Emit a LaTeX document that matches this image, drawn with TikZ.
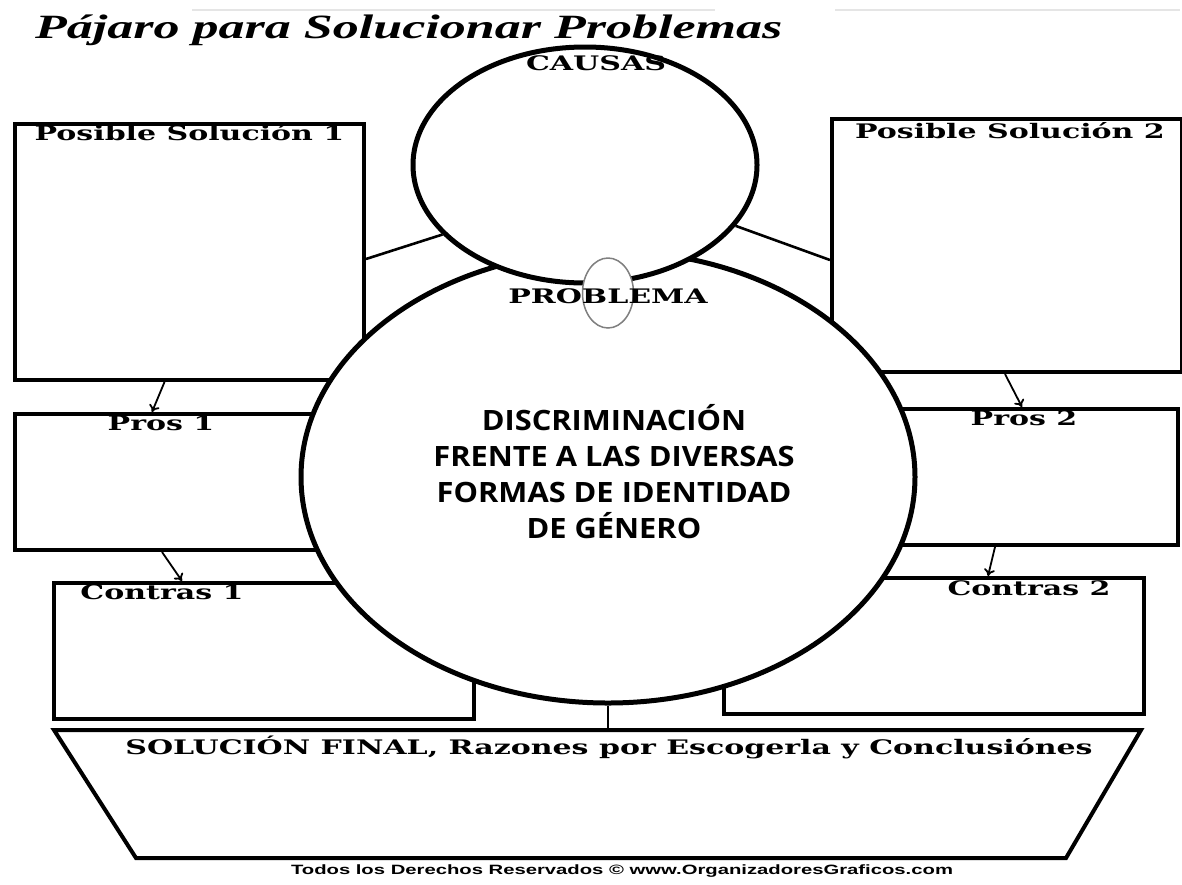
\documentclass[tikz,border=0pt]{standalone}
\usepackage{fontspec}
\usetikzlibrary{positioning,shapes.geometric,arrows.meta}
\newfontfamily\labfont{DejaVu Serif}[FakeStretch=1.5]
\newfontfamily\titfont{Liberation Serif}[FakeStretch=1.53]
\newfontfamily\temafont{Open Sans}[FakeStretch=1.1]
\newfontfamily\copyfont{Liberation Sans}[FakeStretch=1.5]

\begin{document}
\begin{tikzpicture}[x=1pt,y=-1pt,
box/.style={draw, line width=4pt, fill=white, anchor=north west, inner sep=0pt},
bubble/.style={draw, ellipse, line width=5pt, fill=white, inner sep=0pt},
lab/.style={font=\labfont\bfseries\fontsize{20}{24}\selectfont, inner sep=0pt, anchor=north},
link/.style={line width=2.6pt},
arr/.style={line width=1.8pt, -{To[length=7pt,width=11pt]}}]
    \useasboundingbox (0,0) rectangle (1182,884);
    % faint rules
    \draw[gray!20, line width=1.5pt] (192,10) -- (715,10);
    \draw[gray!20, line width=1.5pt] (835,10) -- (1180,10);

    % Nodes
    \node (Title) [anchor=west, inner sep=0pt, font=\titfont\bfseries\itshape\fontsize{34}{40}\selectfont] at (35,30) {Pájaro para Solucionar Problemas};
    \node (Sol1) [box, minimum width=349pt, minimum height=256pt] at (13,122) {};
    \node (Sol2) [box, minimum width=350pt, minimum height=253pt] at (830,117) {};
    \node (Pros1) [box, minimum width=350pt, minimum height=136pt] at (13,412) {};
    \node (Pros2) [box, anchor=north east, minimum width=350pt, minimum height=136pt] at (1180,407) {};
    \node (Con1) [box, minimum width=420pt, minimum height=136pt] at (52,581) {};
    \node (Con2) [box, minimum width=420pt, minimum height=136pt] at (722,576) {};
    \node (Prob) [bubble, minimum width=614pt, minimum height=452pt] at (608,477) {};
    \node (Causas) [bubble, minimum width=344pt, minimum height=236pt] at (585,165) {};
    \node (Beak) [ellipse, draw=gray, line width=1.5pt, fill=white, inner sep=0pt, minimum width=51pt, minimum height=70pt] at (608,293) {};
    % final box
    \coordinate (FinTop) at (608,730);
    \draw[line width=4pt, line join=miter] (54,730) -- (1141,730) -- (1066,858) -- (136,858) -- cycle;

    % Labels
    \node (lSol1) [lab, below=2pt of Sol1.north] {Posible Solución 1};
    \node (lSol2) [lab, below=5pt of Sol2.north, xshift=3pt] {Posible Solución 2};
    \node (lPros1) [lab] at (161,415) {Pros 1};
    \node (lPros2) [lab] at (1024,410) {Pros 2};
    \node (lCon1) [lab] at (162,584) {Contras 1};
    \node (lCon2) [lab] at (1029,580) {Contras 2};
    \node (lCausas) [lab] at (596,55) {CAUSAS};
    \node (lProb) [lab] at (608,288) {PROBLEMA};
    \node (lFinal) [lab] at (609,736) {SOLUCIÓN FINAL, Razones por Escogerla y Conclusiónes};
    \node (Tema) [align=center, font=\temafont\bfseries\fontsize{28}{36}\selectfont] at (614,472) {DISCRIMINACIÓN\\FRENTE A LAS DIVERSAS\\FORMAS DE IDENTIDAD\\DE GÉNERO};
    \node (Copy) [inner sep=0pt, font=\copyfont\bfseries\fontsize{13.5}{16}\selectfont] at (622,871) {Todos los Derechos Reservados © www.OrganizadoresGraficos.com};

    % Arrows
    \draw[link] ([yshift=-7pt]Sol1.east) -- (Causas.206);
    \draw[link] (Causas.338) -- ([yshift=-14.5pt]Sol2.west);
    \draw[link, line width=1.8pt] (Prob.south) -- (FinTop);
    \draw[arr] ([xshift=-25pt]Sol1.south) -- ([xshift=139pt]Pros1.north west);
    \draw[arr] ([xshift=149pt]Pros1.south west) -- ([xshift=130pt]Con1.north west);
    \draw[arr] ([xshift=175pt]Sol2.south west) -- ([xshift=-158pt]Pros2.north east);
    \draw[arr] ([xshift=-185pt]Pros2.south east) -- ([xshift=266pt]Con2.north west);

  \end{tikzpicture}
\end{document}
